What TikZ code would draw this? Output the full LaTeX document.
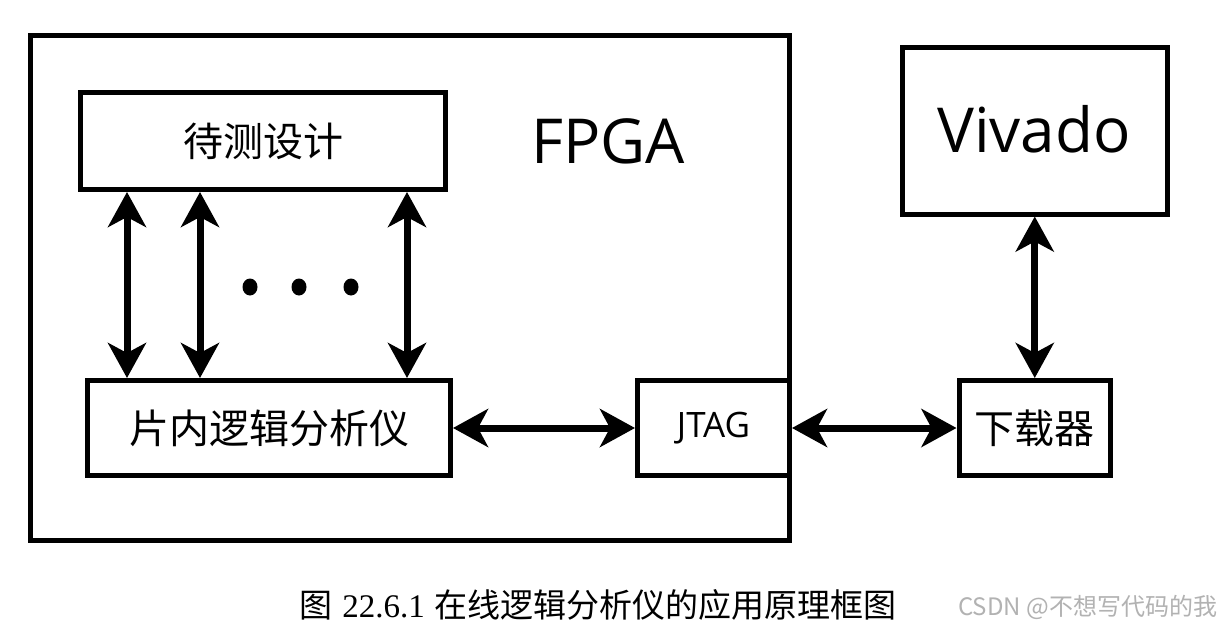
\documentclass[tikz,border=0pt]{standalone}
\usepackage{fontspec}
\setmainfont{Open Sans}
\newfontfamily\cjk{Noto Sans CJK SC}
\newfontfamily\capserif{Liberation Serif}
\usetikzlibrary{arrows.meta,shapes.geometric}
\begin{document}
\begin{tikzpicture}[x=1pt,y=-1pt,
  box/.style={draw, line width=5pt, inner sep=0pt, font=\cjk\fontsize{40}{48}\selectfont},
  dbl/.style={{Stealth[length=35pt,width=38pt,inset=10pt]}-{Stealth[length=35pt,width=38pt,inset=10pt]}, line width=7pt},
  bigtxt/.style={inner sep=0pt, anchor=base, font=\fontsize{62}{70}\selectfont},
  dotmark/.style={fill=black, ellipse, minimum width=15pt, minimum height=17pt, inner sep=0pt}
]
\useasboundingbox (0,0) rectangle (1220,629);
\fill[white] (0,0) rectangle (1220,629);

% FPGA frame
\node[box, minimum width=759pt, minimum height=505pt] (fpga) at (410,288) {};
\node[bigtxt] (fpgatxt) at (608,163) {FPGA};

% inner blocks
\node[box, minimum width=365pt, minimum height=97pt] (dut) at (263,141) {待测设计};
\node[box, minimum width=363pt, minimum height=95pt] (ila) at (269,428) {片内逻辑分析仪};
\node[box, minimum width=152pt, minimum height=95pt, font=\fontsize{35}{42}\selectfont] (jtag) at (713.5,428) {JTAG};

% right side
\node[box, minimum width=265pt, minimum height=166.5pt] (vivado) at (1035,130.75) {};
\node[bigtxt] (vivadotxt) at (1034,152) {Vivado};
\node[box, minimum width=151.5pt, minimum height=95pt] (dl) at (1034.75,428) {下载器};

% vertical arrows
\coordinate (xa) at (127,0);
\coordinate (xb) at (200,0);
\coordinate (xc) at (407,0);
\draw[dbl] (dut.south -| xa) -- (ila.north -| xa);
\draw[dbl] (dut.south -| xb) -- (ila.north -| xb);
\draw[dbl] (dut.south -| xc) -- (ila.north -| xc);

% dots
\node[dotmark] (d1) at (250,287) {};
\node[dotmark] (d2) at (299,287) {};
\node[dotmark] (d3) at (351,287) {};

% horizontal arrows
\draw[dbl] (ila.east) -- (jtag.west);
\draw[dbl] (jtag.east) -- (dl.west);
\draw[dbl] (vivado.south -| dl.north) -- (dl.north);

% caption
\node[inner sep=0pt, anchor=base, font=\fontsize{33}{40}\selectfont] (cap) at (598,617)
  {\cjk 图\capserif\hspace{10pt}22.6.1\hspace{10pt}\cjk 在线逻辑分析仪的应用原理框图};
\node[inner sep=0pt, anchor=base west, text=black!30, font=\cjk\fontsize{24}{28}\selectfont] (wm) at (958,615)
  {CSDN @不想写代码的我};
\end{tikzpicture}
\end{document}
